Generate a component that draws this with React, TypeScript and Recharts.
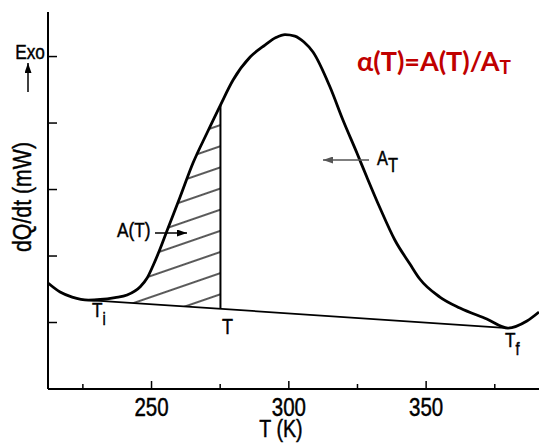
import React from 'react';
import { ComposedChart, Line, Area, XAxis, YAxis } from 'recharts';

// Temperatures (K) and heat-flow readings (arbitrary units, one unit per y tick)
const temps = [
  212.3, 216.7, 221.1, 227.0, 231.3, 236.7, 241.1, 245.8, 248.4, 250.5, 253.1,
  255.6, 260.4, 265.1, 270.2, 275.1, 279.7, 285.9, 291.3, 295.3, 298.6, 302.2,
  305.5, 308.8, 315.0, 319.7, 324.8, 328.4, 333.2, 338.6, 344.1, 347.7, 355.0,
  362.3, 372.1, 379.8, 386.7, 391.1,
];
const heat = [
  1.594, 1.459, 1.383, 1.338, 1.346, 1.376, 1.414, 1.534, 1.669, 1.85, 2.105,
  2.376, 2.887, 3.398, 3.85, 4.271, 4.647, 4.992, 5.173, 5.286, 5.331, 5.308,
  5.218, 5.068, 4.541, 4.045, 3.549, 3.188, 2.722, 2.241, 1.88, 1.654, 1.383,
  1.218, 1.053, 0.917, 1.023, 1.158,
];

const Ti = 227.0;
const TiVal = 1.338;
const Tf = 379.8;
const TfVal = 0.917;
const Tcut = 275.1;
const TcutBase = 1.206;
const TcutTop = 4.271;
const hatchFloor = 1.0;
const maskFloor = 0.9;

const xTicks = [225, 250, 275, 300, 325, 350, 375];
const xLabelTicks = [250, 300, 350];
const yTicks = [1, 2, 3, 4, 5];

const curveData = temps.map((T, i) => ({ T, v: heat[i] }));
const hatchData = curveData.filter((d) => d.T >= Ti && d.T <= Tcut);
const baselineData = [
  { T: Ti, v: TiVal },
  { T: Tf, v: TfVal },
];
const maskData = [
  { T: Ti - 0.3, v: TiVal },
  { T: Tcut + 0.3, v: TcutBase },
];
const cutData = [
  { T: Tcut, v: TcutBase },
  { T: Tcut, v: TcutTop },
];

const SANS = '"Liberation Sans", Arial, sans-serif';
const SQ = 0.82; // horizontal squeeze to imitate a narrow Helvetica

type NProps = {
  x: number;
  y: number;
  size: number;
  anchor?: 'start' | 'middle' | 'end';
  rotate?: number;
  fill?: string;
  children: React.ReactNode;
};

const NText = ({ x, y, size, anchor = 'start', rotate = 0, fill = '#000', children }: NProps) => (
  <text
    x={0}
    y={0}
    transform={`translate(${x},${y}) rotate(${rotate}) scale(${SQ},1)`}
    textAnchor={anchor}
    fontFamily={SANS}
    fontSize={size}
    fill={fill}
    stroke={fill}
    strokeWidth={0.45}
  >
    {children}
  </text>
);

const BottomTick = (props: any) => {
  const { x, y, payload } = props;
  const major = xLabelTicks.includes(payload.value);
  return (
    <g>
      <line x1={x} x2={x} y1={y} y2={y - (major ? 8 : 5)} stroke="#000" strokeWidth={1.5} />
      {major && (
        <NText x={x} y={y + 27} size={25} anchor="middle">
          {payload.value}
        </NText>
      )}
    </g>
  );
};

const TopTick = (props: any) => {
  const { x, y } = props;
  return <line x1={x} x2={x} y1={y} y2={y + 3} stroke="#000" strokeWidth={1.2} />;
};

const LeftTick = (props: any) => {
  const { x, y } = props;
  return <line x1={x} x2={x + 9} y1={y} y2={y} stroke="#000" strokeWidth={1.5} />;
};

export default function App() {
  return (
    <div style={{ position: 'absolute', left: 0, top: 0, width: 539, height: 444, background: '#fff' }}>
      <ComposedChart width={539} height={444} margin={{ top: 12, right: 0, bottom: 0, left: 0 }}>
        <defs>
          <pattern
            id="hatch"
            patternUnits="userSpaceOnUse"
            width={20}
            height={20}
            patternTransform="rotate(-19)"
          >
            <line x1={-2} y1={10} x2={22} y2={10} stroke="#000" strokeWidth={1.3} />
          </pattern>
        </defs>
        <XAxis
          dataKey="T"
          type="number"
          domain={[212.3, 391.1]}
          allowDataOverflow
          ticks={xTicks}
          interval={0}
          tickSize={0}
          tickMargin={0}
          tickLine={false}
          tick={<BottomTick />}
          height={55}
          axisLine={{ stroke: '#000', strokeWidth: 2 }}
        />
        <XAxis
          xAxisId="top"
          orientation="top"
          dataKey="T"
          type="number"
          domain={[212.3, 391.1]}
          allowDataOverflow
          ticks={xTicks}
          interval={0}
          tickSize={0}
          tickMargin={0}
          tickLine={false}
          tick={<TopTick />}
          height={0}
          axisLine={{ stroke: '#000', strokeWidth: 1.5 }}
        />
        <YAxis
          type="number"
          domain={[0, 5.67]}
          allowDataOverflow
          ticks={yTicks}
          interval={0}
          tickSize={0}
          tickMargin={0}
          tickLine={false}
          tick={<LeftTick />}
          width={48}
          axisLine={{ stroke: '#000', strokeWidth: 2 }}
        />
        <Area
          data={hatchData}
          dataKey="v"
          type="monotone"
          baseValue={hatchFloor}
          fill="url(#hatch)"
          fillOpacity={1}
          stroke="none"
          isAnimationActive={false}
        />
        <Area
          data={maskData}
          dataKey="v"
          type="linear"
          baseValue={maskFloor}
          fill="#fff"
          fillOpacity={1}
          stroke="none"
          isAnimationActive={false}
        />
        <Line
          data={baselineData}
          dataKey="v"
          type="linear"
          stroke="#000"
          strokeWidth={1.8}
          dot={false}
          isAnimationActive={false}
        />
        <Line
          data={cutData}
          dataKey="v"
          type="linear"
          stroke="#000"
          strokeWidth={2}
          dot={false}
          isAnimationActive={false}
        />
        <Line
          data={curveData}
          dataKey="v"
          type="monotone"
          stroke="#000"
          strokeWidth={2.8}
          dot={false}
          isAnimationActive={false}
        />
      </ComposedChart>
      <svg
        width={539}
        height={444}
        style={{ position: 'absolute', left: 0, top: 0, pointerEvents: 'none' }}
      >
        <defs>
          <marker id="ahBlack" markerUnits="userSpaceOnUse" markerWidth={10} markerHeight={7} refX={10} refY={3.5} orient="auto">
            <path d="M0,0 L10,3.5 L0,7 z" fill="#000" />
          </marker>
          <marker id="ahGray" markerUnits="userSpaceOnUse" markerWidth={10} markerHeight={7} refX={10} refY={3.5} orient="auto">
            <path d="M0,0 L10,3.5 L0,7 z" fill="#555" />
          </marker>
        </defs>
        <NText x={30} y={59} size={21} anchor="middle">Exo</NText>
        <line x1={28} y1={92} x2={28} y2={63} stroke="#000" strokeWidth={1.5} markerEnd="url(#ahBlack)" />
        <NText x={31} y={197} size={26} anchor="middle" rotate={-90}>dQ/dt (mW)</NText>
        <NText x={281} y={437} size={24} anchor="middle">T (K)</NText>
        <text x={357} y={71} fontFamily="Lato, 'Open Sans', sans-serif" fontWeight="bold" fontSize={27} fill="#c00000">
          α(T)=A(T)/A<tspan fontSize={19} dy={3}>T</tspan>
        </text>
        <line x1={369} y1={160} x2={323} y2={160} stroke="#555" strokeWidth={1.5} markerEnd="url(#ahGray)" />
        <NText x={377} y={165} size={20}>
          A<tspan dy={7}>T</tspan>
        </NText>
        <NText x={117} y={237} size={21}>A(T)</NText>
        <line x1={155} y1={233} x2={187} y2={233} stroke="#000" strokeWidth={1.5} markerEnd="url(#ahBlack)" />
        <NText x={92} y={317} size={21}>
          T<tspan dy={8} fontSize={18}>i</tspan>
        </NText>
        <NText x={222} y={334} size={22}>T</NText>
        <NText x={505} y={347} size={21}>
          T<tspan dy={8} fontSize={18}>f</tspan>
        </NText>
      </svg>
    </div>
  );
}
